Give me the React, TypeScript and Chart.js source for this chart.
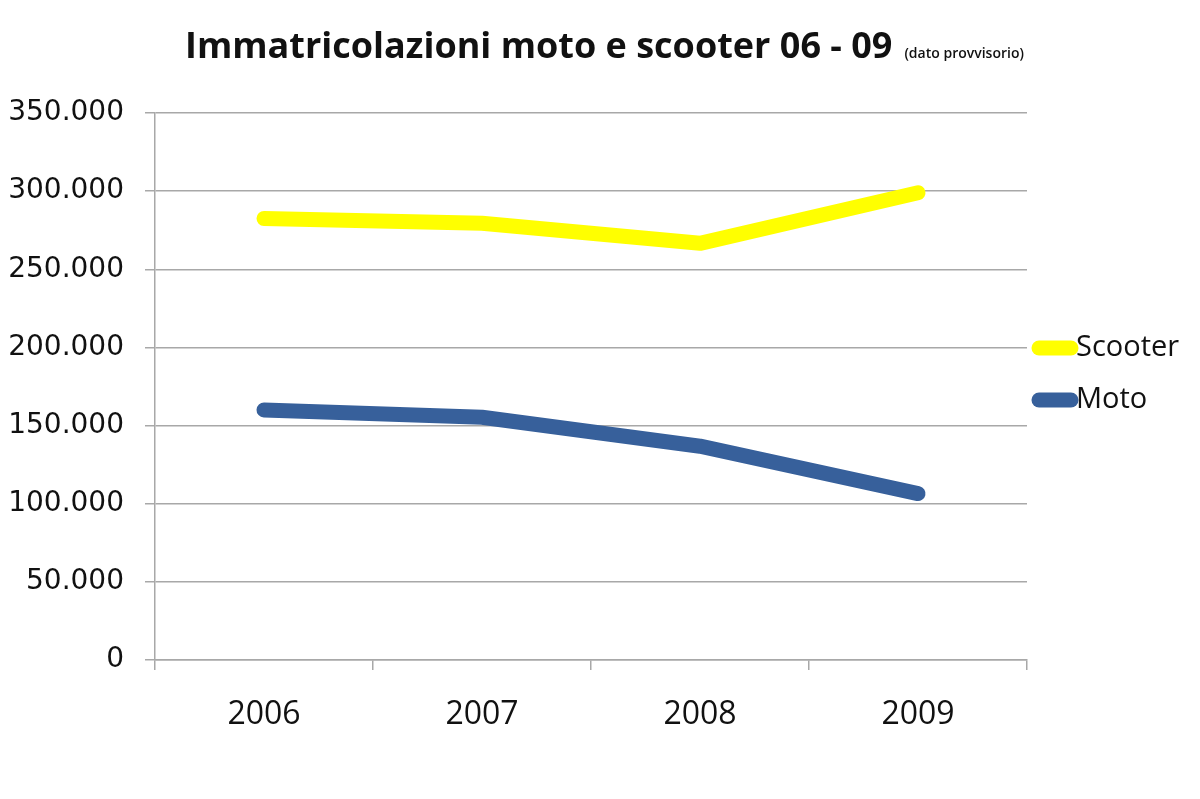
import { useEffect, useRef } from "react";
import Chart from "chart.js/auto";

const years = ["2006", "2007", "2008", "2009"];
const scooter = [282500, 279400, 266600, 299000];
const moto = [160000, 155300, 136800, 106500];
const yTicks = [0, 50000, 100000, 150000, 200000, 250000, 300000, 350000];

const fmt = (v: number) => String(v).replace(/\B(?=(\d{3})+(?!\d))/g, ".");

// legend on the right of the plot, short thick line + label
const sideLegend = {
  id: "sideLegend",
  afterDraw(chart: any) {
    const { ctx, chartArea } = chart;
    const x0 = chartArea.right + 12;
    const x1 = chartArea.right + 44;
    const baseY = 348;
    ctx.save();
    chart.data.datasets.forEach((ds: any, i: number) => {
      const y = baseY + i * 52;
      ctx.strokeStyle = ds.borderColor;
      ctx.lineWidth = 15;
      ctx.lineCap = "round";
      ctx.beginPath();
      ctx.moveTo(x0, y);
      ctx.lineTo(x1, y);
      ctx.stroke();
      ctx.fillStyle = "#111";
      ctx.font = "29px 'Open Sans'";
      ctx.textBaseline = "middle";
      ctx.fillText(ds.label, x1 + 5, y);
    });
    ctx.restore();
  },
};

export default function App() {
  const canvasRef = useRef<HTMLCanvasElement>(null);

  useEffect(() => {
    if (!canvasRef.current) return;
    const chart = new Chart(canvasRef.current, {
      type: "line",
      data: {
        labels: years,
        datasets: [
          {
            label: "Scooter",
            data: scooter,
            borderColor: "#ffff00",
            backgroundColor: "#ffff00",
            borderWidth: 15,
            borderCapStyle: "round",
            borderJoinStyle: "round",
            pointRadius: 0,
            tension: 0,
          },
          {
            label: "Moto",
            data: moto,
            borderColor: "#37609b",
            backgroundColor: "#37609b",
            borderWidth: 15,
            borderCapStyle: "round",
            borderJoinStyle: "round",
            pointRadius: 0,
            tension: 0,
          },
        ],
      },
      options: {
        animation: false,
        responsive: true,
        maintainAspectRatio: false,
        layout: { padding: { top: 113, right: 173, left: 0, bottom: 0 } },
        plugins: {
          legend: { display: false },
          tooltip: { enabled: false },
        },
        scales: {
          x: {
            offset: true,
            grid: {
              offset: true,
              drawOnChartArea: false,
              drawTicks: true,
              tickLength: 10,
              color: "#a8a8a8",
              lineWidth: 1.5,
            },
            border: { color: "#a8a8a8", width: 1.5 },
            ticks: {
              color: "#111",
              padding: 26,
              font: { family: "'Open Sans'", size: 32 },
            },
            afterFit: (scale: any) => {
              scale.height = 139;
            },
          },
          y: {
            min: 0,
            max: 350000,
            afterBuildTicks: (scale: any) => {
              scale.ticks = yTicks.map((v) => ({ value: v }));
            },
            grid: {
              color: "#a8a8a8",
              lineWidth: 1.5,
              tickLength: 10,
            },
            border: { color: "#a8a8a8", width: 1.5 },
            ticks: {
              color: "#111",
              padding: 21,
              font: { family: "'DejaVu Sans'", size: 28 },
              callback: (v: any) => fmt(Number(v)),
            },
            afterFit: (scale: any) => {
              scale.width = 155;
            },
          },
        },
      },
      plugins: [sideLegend],
    });
    return () => chart.destroy();
  }, []);

  return (
    <div
      style={{
        position: "fixed",
        left: 0,
        top: 0,
        width: 1200,
        height: 799,
        background: "#fff",
      }}
    >
      <div
        style={{
          position: "absolute",
          left: 185,
          top: 20,
          whiteSpace: "nowrap",
          fontFamily: "'Open Sans'",
          color: "#111",
          lineHeight: "50px",
        }}
      >
        <span style={{ fontSize: 36, fontWeight: 700 }}>
          Immatricolazioni moto e scooter 06 - 09
        </span>
        <span style={{ fontSize: 14, fontWeight: 600, marginLeft: 12 }}>
          (dato provvisorio)
        </span>
      </div>
      <canvas ref={canvasRef} />
    </div>
  );
}
